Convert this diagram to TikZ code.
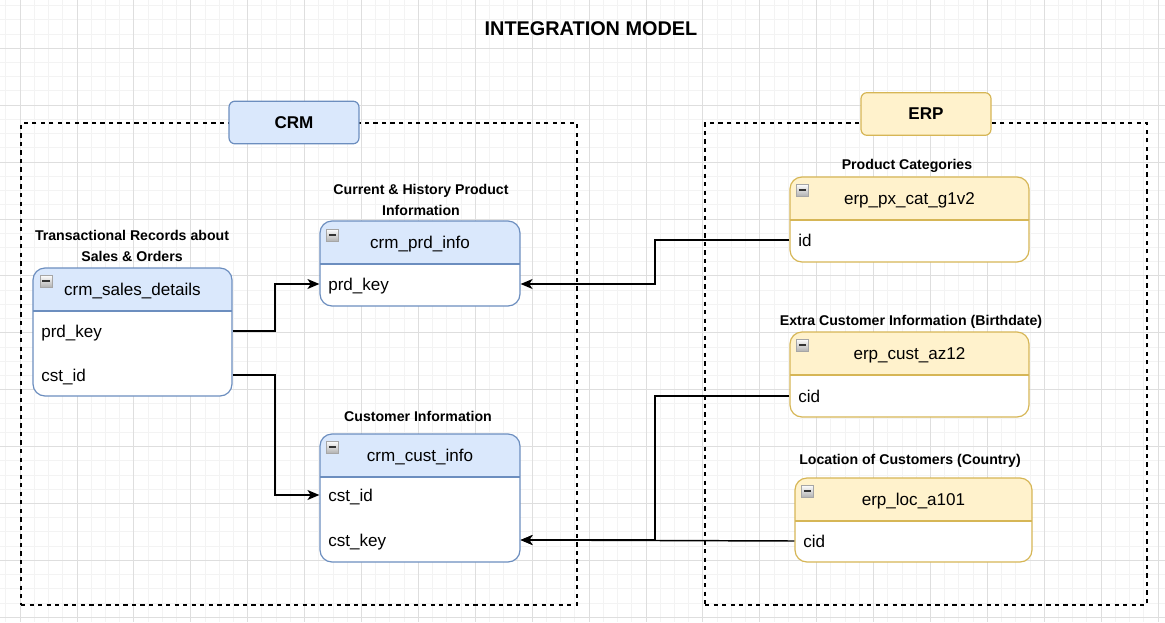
\documentclass[tikz,border=0pt]{standalone}
\usepackage{fontspec}
\setmainfont{Liberation Sans}
\usetikzlibrary{arrows.meta,positioning}

\definecolor{crmfill}{HTML}{DAE8FC}
\definecolor{crmline}{HTML}{6C8EBF}
\definecolor{erpfill}{HTML}{FFF2CC}
\definecolor{erpline}{HTML}{D6B656}
\definecolor{gridminor}{HTML}{F3F3F3}
\definecolor{gridmajor}{HTML}{DEDEDE}

\newcommand\attrfont{\fontsize{12.8}{15}\selectfont}
\newcommand\notefont{\fontsize{10.6}{15.8}\selectfont\bfseries}

\tikzset{
  zone/.style={draw, dash pattern=on 3.2pt off 3.2pt, line width=1pt, inner sep=0pt},
  groupname/.style={draw=#1line, fill=#1fill, rounded corners=4.5pt, line width=0.9pt,
    minimum width=97.5pt, minimum height=32pt, font=\fontsize{12.8}{15}\selectfont\bfseries},
  entity/.style={draw=#1line, fill=white, rounded corners=9pt, line width=0.9pt, inner sep=0pt,
    path picture={
      \fill[#1fill, sharp corners] (path picture bounding box.north west)
        rectangle ([yshift=-32.25pt]path picture bounding box.north east);
      \draw[#1line, line width=0.9pt, sharp corners] ([yshift=-32.25pt]path picture bounding box.north west)
        -- ([yshift=-32.25pt]path picture bounding box.north east);
    }},
  hdr/.style={font=\attrfont, inner sep=0pt, text height=9.4pt, text depth=0pt},
  attr/.style={font=\attrfont, anchor=west, inner sep=0pt, text height=9.4pt, text depth=0pt},
  note/.style={font=\notefont, align=center, inner sep=0pt},
  icon/.style={draw=gray!70, top color=white, bottom color=gray!60, minimum size=9pt,
    inner sep=0pt, line width=0.5pt,
    path picture={\draw[line width=1.3pt, black!80] ([xshift=1.8pt]path picture bounding box.west)
      -- ([xshift=-1.8pt]path picture bounding box.east);}},
  relation/.style={draw, line width=1.1pt, -{Stealth[length=9pt, width=7.5pt, inset=2.5pt]}}
}

\begin{document}
\begin{tikzpicture}[x=0.75pt, y=-0.75pt]
  \useasboundingbox (0,0) rectangle (1165,622);
  % grid
  \foreach \i in {-2,...,82} \draw[gridminor, line width=0.6pt] ({20+14.225*\i},0) -- ++(0,622);
  \foreach \i in {-1,...,44} \draw[gridminor, line width=0.6pt] (0,{-8.7+14.225*\i}) -- ++(1165,0);
  \foreach \i in {0,...,20} \draw[gridmajor, line width=0.6pt] ({20+56.9*\i},0) -- ++(0,622);
  \foreach \i in {0,...,11} \draw[gridmajor, line width=0.6pt] (0,{-8.7+56.9*\i}) -- ++(1165,0);

  \node[font=\fontsize{14.9}{17}\selectfont\bfseries] (title) at (591,29) {INTEGRATION MODEL};

  % source systems
  \node[zone, minimum width=417pt, minimum height=361.5pt] (crmzone) at (299,364) {};
  \node[zone, minimum width=331.5pt, minimum height=361.5pt] (erpzone) at (926,364) {};
  \node[groupname=crm] (crm) at (294,122.5) {CRM};
  \node[groupname=erp] (erp) at (926,114) {ERP};

  % crm tables
  \node[entity=crm, minimum width=149.25pt, minimum height=96pt] (sales) at (132.5,332) {};
  \node[icon] (sales-icon) at (46,281) {};
  \node[hdr] (sales-hdr) at (132.5,289) {crm\_sales\_details};
  \node[attr] (sales-prd) at (41,331) {prd\_key};
  \node[attr] (sales-cst) at (41,375) {cst\_id};
  \node[note] (sales-note) at (132,246) {Transactional Records about\\Sales \& Orders};

  \node[entity=crm, minimum width=150pt, minimum height=63.75pt] (prd) at (420,263.5) {};
  \node[icon] (prd-icon) at (332.5,235) {};
  \node[hdr] (prd-hdr) at (420,242.5) {crm\_prd\_info};
  \node[attr] (prd-key) at (328,284) {prd\_key};
  \node[note] (prd-note) at (421,200) {Current \& History Product\\Information};

  \node[entity=crm, minimum width=150pt, minimum height=96pt] (cust) at (420,498) {};
  \node[icon] (cust-icon) at (332.5,447) {};
  \node[hdr] (cust-hdr) at (420,455) {crm\_cust\_info};
  \node[attr] (cust-id) at (328,495) {cst\_id};
  \node[attr] (cust-key) at (328,540) {cst\_key};
  \node[note] (cust-note) at (418,416) {Customer Information};

  % erp tables
  \node[entity=erp, minimum width=179.25pt, minimum height=63.75pt] (pxcat) at (909.5,219.5) {};
  \node[icon] (pxcat-icon) at (802.5,190) {};
  \node[hdr] (pxcat-hdr) at (909.5,198.5) {erp\_px\_cat\_g1v2};
  \node[attr] (pxcat-id) at (798,240) {id};
  \node[note] (pxcat-note) at (907,166) {Product Categories};

  \node[entity=erp, minimum width=179.25pt, minimum height=63.75pt] (custaz) at (909.5,374.5) {};
  \node[icon] (custaz-icon) at (802.5,345) {};
  \node[hdr] (custaz-hdr) at (909.5,353.5) {erp\_cust\_az12};
  \node[attr] (custaz-cid) at (798,396) {cid};
  \node[note] (custaz-note) at (911,321.5) {Extra Customer Information (Birthdate)};

  \node[entity=erp, minimum width=177.75pt, minimum height=63pt] (loc) at (913.5,520) {};
  \node[icon] (loc-icon) at (807.5,491) {};
  \node[hdr] (loc-hdr) at (913.5,499) {erp\_loc\_a101};
  \node[attr] (loc-cid) at (803,541) {cid};
  \node[note] (loc-note) at (910,460.5) {Location of Customers (Country)};

  % relations
  \coordinate (bendl) at (275,0);
  \coordinate (bendr) at (655,0);
  \draw[relation] (sales-prd -| sales.east) -- (sales-prd -| bendl) |- (prd-key -| prd.west);
  \draw[relation] (sales-cst -| sales.east) -- (sales-cst -| bendl) |- (cust-id -| cust.west);
  \draw[relation] (pxcat-id -| pxcat.west) -- (pxcat-id -| bendr) |- (prd-key -| prd.east);
  \draw[relation] (custaz-cid -| custaz.west) -- (custaz-cid -| bendr) |- (cust-key -| cust.east);
  \draw[relation] (loc-cid -| loc.west) -- (cust-key -| cust.east);
\end{tikzpicture}
\end{document}
